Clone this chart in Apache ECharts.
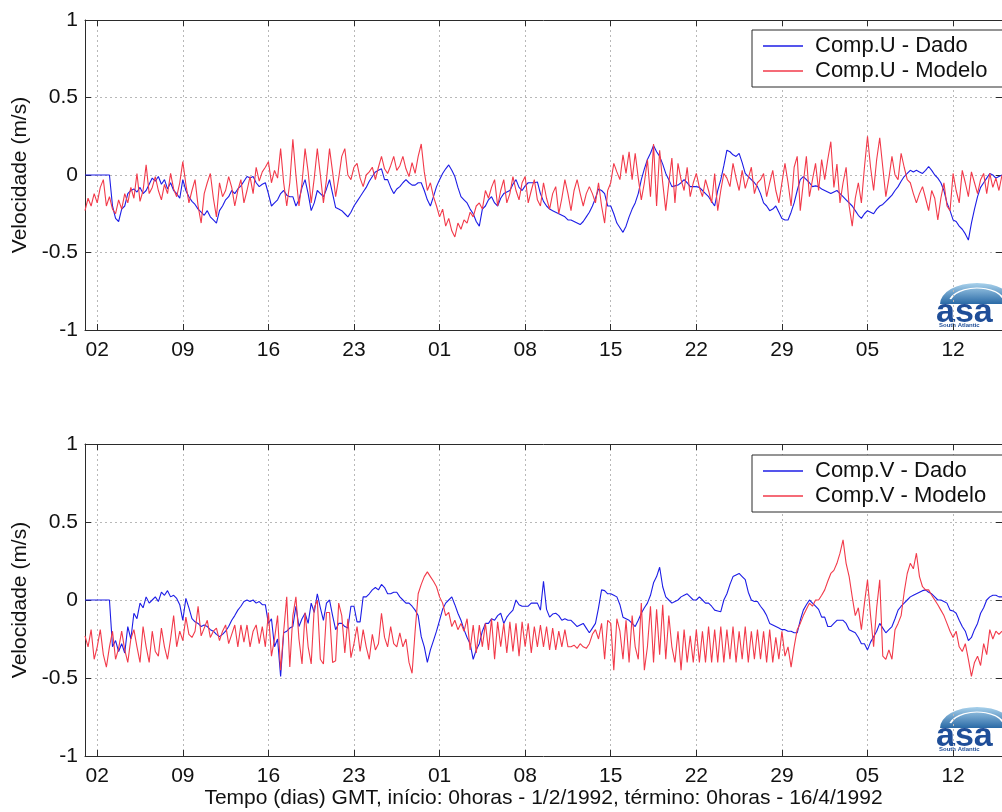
<!DOCTYPE html>
<html>
<head>
<meta charset="utf-8">
<script src="https://cdn.jsdelivr.net/npm/echarts@6/dist/echarts.min.js"></script>
<style>
html,body{margin:0;padding:0;background:#fff;}
#chart{width:1002px;height:812px;}
</style>
</head>
<body>
<div id="chart"></div>
<script>
// time step of the samples (days since 1/2/1992 0h)
const STEP_DAYS = 0.25;
const xTickDays = [1, 8, 15, 22, 29, 36, 43, 50, 57, 64, 71];
const xTickLabels = ['02','09','16','23','01','08','15','22','29','05','12'];

const uDado = [
0,0,0,0, 0,0,0,0, 0,-0.2,-0.28,-0.3, -0.22,-0.2,-0.12,-0.1, -0.09,-0.11,-0.08,-0.12,
-0.1,-0.06,-0.02,-0.04, -0.01,-0.06,-0.03,-0.09, -0.05,-0.1,-0.12,-0.15, -0.03,-0.1,-0.14,-0.17, -0.19,-0.22,-0.24,-0.26,
-0.23,-0.27,-0.29,-0.31, -0.23,-0.2,-0.16,-0.14, -0.1,-0.12,-0.09,-0.07, -0.04,-0.01,-0.02,-0.01, -0.05,-0.075,-0.06,-0.05,
-0.12,-0.2,-0.18,-0.16, -0.12,-0.1,-0.13,-0.14, -0.14,-0.2,-0.16,-0.08, -0.03,-0.12,-0.23,-0.18, -0.1,-0.12,-0.14,-0.09,
-0.03,-0.12,-0.21,-0.22, -0.23,-0.25,-0.27,-0.24, -0.2,-0.17,-0.14,-0.11, -0.08,-0.04,-0.01,0.02, 0.03,0.04,-0.03,-0.03,
-0.08,-0.12,-0.09,-0.075, -0.05,-0.03,-0.05,-0.065, -0.065,-0.05,-0.05,-0.1, -0.16,-0.2,-0.14,-0.075, -0.03,0.01,0.04,0.065,
0.03,-0.01,-0.08,-0.14, -0.16,-0.18,-0.22,-0.25, -0.3,-0.33,-0.22,-0.2, -0.16,-0.14,-0.18,-0.2, -0.15,-0.12,-0.11,-0.1,
-0.06,-0.03,-0.08,-0.1, -0.07,-0.05,-0.05,-0.05, -0.045,-0.12,-0.17,-0.2, -0.22,-0.23,-0.24,-0.25, -0.26,-0.27,-0.29,-0.29,
-0.3,-0.31,-0.32,-0.3, -0.27,-0.24,-0.2,-0.15, -0.09,-0.1,-0.12,-0.2, -0.2,-0.25,-0.31,-0.34, -0.37,-0.33,-0.27,-0.22,
-0.18,-0.12,-0.03,0.04, 0.1,0.14,0.19,0.15, 0.12,0.07,0.01,-0.03, -0.075,-0.07,-0.065,-0.05, -0.03,-0.05,-0.075,-0.075,
-0.075,-0.08,-0.1,-0.12, -0.14,-0.17,-0.2,-0.1, -0.03,0.06,0.16,0.15, 0.13,0.12,0.14,0.08, 0.01,-0.01,-0.03,-0.05,
-0.075,-0.12,-0.18,-0.2, -0.23,-0.22,-0.2,-0.24, -0.28,-0.29,-0.29,-0.24, -0.18,-0.1,-0.03,-0.01, -0.03,-0.05,-0.075,-0.07,
-0.075,-0.09,-0.1,-0.11, -0.12,-0.11,-0.1,-0.12, -0.14,-0.16,-0.18,-0.2, -0.23,-0.26,-0.28,-0.25, -0.23,-0.24,-0.25,-0.22,
-0.2,-0.19,-0.17,-0.15, -0.13,-0.1,-0.075,-0.04, -0.01,0.01,0.03,0.02, 0.03,0.02,0.01,0.03, 0.055,0.03,0.0,-0.02,
-0.05,-0.1,-0.18,-0.23, -0.29,-0.3,-0.33,-0.35, -0.38,-0.42,-0.31,-0.22, -0.14,-0.08,-0.05,-0.02, 0.01,0.0,-0.02,-0.01,
0.0
];

const uModelo = [
-0.23,-0.15,-0.2,-0.12, -0.18,-0.08,-0.03,-0.2, -0.14,-0.22,-0.25,-0.16, -0.22,-0.12,-0.18,-0.08, -0.15,0.01,-0.17,-0.1,
0.065,-0.12,-0.08,-0.01, -0.1,-0.16,-0.06,-0.12, 0.01,-0.09,-0.14,-0.05, 0.086,-0.06,-0.18,-0.1, -0.03,-0.2,-0.31,-0.12,
-0.05,0.01,-0.15,-0.27, -0.05,-0.14,-0.1,-0.01, -0.08,-0.2,-0.1,-0.03, -0.18,-0.1,-0.01,-0.12, 0.05,-0.04,0.02,0.05,
0.086,-0.05,0.03,-0.02, 0.17,-0.05,-0.2,-0.05, 0.23,0.0,-0.2,-0.05, 0.17,0.02,-0.18,-0.02, 0.17,0.0,-0.18,-0.03,
0.17,0.02,-0.14,-0.02, 0.12,0.17,0.0,-0.03, 0.05,0.075,-0.02,-0.075, 0.0,0.02,0.05,-0.03, 0.05,0.12,0.04,0.01,
0.06,0.12,0.03,0.06, 0.12,0.04,-0.01,0.08, 0.01,0.12,0.2,0.02, -0.1,-0.05,-0.14,-0.2, -0.27,-0.22,-0.33,-0.28,
-0.36,-0.4,-0.31,-0.35, -0.29,-0.31,-0.24,-0.27, -0.2,-0.18,-0.22,-0.1, -0.15,-0.08,-0.03,-0.2, -0.1,-0.03,-0.18,-0.12,
-0.01,-0.1,-0.16,-0.05, -0.01,-0.18,-0.1,-0.03, -0.16,-0.2,-0.05,-0.15, -0.22,-0.12,-0.075,-0.25, -0.15,-0.03,-0.12,-0.23,
-0.1,-0.03,-0.12,-0.2, -0.12,-0.075,-0.12,-0.18, -0.05,-0.2,-0.31,-0.1, -0.05,0.075,0.02,-0.03, 0.13,0.01,0.15,-0.03,
0.14,-0.02,-0.16,-0.05, 0.1,-0.14,0.2,-0.2, 0.16,-0.05,-0.23,-0.05, 0.11,-0.18,0.075,-0.03, -0.1,0.05,-0.14,-0.05,
0.01,-0.08,-0.14,-0.03, -0.1,-0.18,0.01,-0.23, -0.1,0.01,-0.02,-0.075, 0.075,-0.02,-0.1,0.03, -0.086,-0.02,0.05,-0.12,
-0.05,-0.03,0.01,-0.14, -0.05,0.03,-0.1,-0.18, -0.05,0.075,-0.05,-0.2, 0.05,0.12,-0.23,-0.05, 0.12,-0.14,-0.03,0.075,
-0.1,0.1,-0.03,0.1, 0.215,-0.08,0.07,-0.18, -0.05,0.05,-0.2,-0.33, -0.15,-0.05,-0.18,0.05, 0.25,0.05,-0.1,0.1,
0.24,0.05,-0.14,-0.02, 0.12,0.0,-0.03,0.14, 0.05,-0.03,-0.05,-0.12, -0.18,-0.12,-0.075,-0.15, -0.23,-0.1,-0.15,-0.29,
-0.15,-0.05,-0.2,-0.23, 0.01,-0.1,-0.18,0.03, -0.05,-0.14,0.02,-0.05, -0.12,-0.03,0.01,-0.12, 0.01,-0.08,-0.02,-0.1,
0.0
];

const vDado = [
0,0,0,0, 0,0,0,0, 0,-0.3,-0.26,-0.33, -0.28,-0.34,-0.17,-0.25, -0.085,-0.12,-0.02,-0.05,
0.02,-0.02,0.0,0.02, -0.01,0.05,0.03,0.06, 0.02,0.03,0.01,-0.03, -0.13,0.01,-0.05,-0.12, -0.14,-0.15,-0.17,-0.16,
-0.17,-0.19,-0.2,-0.22, -0.235,-0.22,-0.2,-0.17, -0.13,-0.1,-0.065,-0.04, -0.01,0.0,-0.01,0.0, -0.02,-0.01,-0.03,-0.03,
-0.15,-0.12,-0.3,-0.25, -0.49,-0.21,-0.2,-0.18, -0.17,-0.04,-0.17,-0.12, -0.085,-0.15,-0.02,-0.08, 0.04,-0.05,-0.13,-0.02,
0.0,-0.1,-0.19,-0.15, -0.15,-0.17,-0.18,-0.04, -0.04,-0.14,-0.14,0.02, 0.02,0.04,0.065,0.08, 0.065,0.1,0.08,0.04,
0.04,0.05,0.05,0.02, 0.0,-0.02,-0.02,-0.04, -0.065,-0.1,-0.235,-0.3, -0.4,-0.32,-0.26,-0.2, -0.13,-0.06,-0.02,0.0,
0.02,-0.03,-0.085,-0.13, -0.19,-0.24,-0.28,-0.38, -0.32,-0.28,-0.2,-0.15, -0.15,-0.12,-0.13,-0.1, -0.085,-0.15,-0.11,-0.085,
-0.065,0.0,-0.03,-0.04, -0.04,-0.04,-0.02,-0.02, -0.02,-0.065,0.12,-0.06, -0.11,-0.09,-0.085,-0.1, -0.13,-0.12,-0.13,-0.13,
-0.15,-0.17,-0.16,-0.15, -0.18,-0.21,-0.18,-0.15, -0.05,0.065,0.06,0.04, 0.04,0.03,0.02,-0.03, -0.11,-0.12,-0.13,-0.15,
-0.17,-0.13,-0.085,-0.05, -0.02,0.03,0.11,0.15, 0.21,0.085,0.02,0.0, -0.02,-0.01,0.0,0.02, 0.03,0.04,0.02,0.0,
0.0,0.02,0.0,-0.02, -0.02,-0.04,-0.065,-0.07, -0.075,0.0,0.04,0.1, 0.15,0.16,0.17,0.15, 0.13,0.05,0.0,-0.01,
-0.01,-0.04,-0.065,-0.1, -0.15,-0.16,-0.17,-0.18, -0.19,-0.19,-0.2,-0.2, -0.21,-0.21,-0.13,-0.065, -0.03,0.0,-0.02,-0.04,
-0.06,-0.11,-0.11,-0.17, -0.17,-0.15,-0.13,-0.13, -0.13,-0.15,-0.19,-0.2, -0.21,-0.24,-0.28,-0.28, -0.32,-0.27,-0.235,-0.2,
-0.15,-0.18,-0.21,-0.19, -0.17,-0.12,-0.065,-0.04, -0.02,0.0,0.02,0.03, 0.04,0.05,0.06,0.065, 0.05,0.04,0.02,0.0,
0.0,-0.01,-0.02,-0.065, -0.07,-0.085,-0.13,-0.17, -0.2,-0.26,-0.24,-0.19, -0.15,-0.085,-0.05,0.0, 0.02,0.03,0.03,0.02,
0.02
];

const vModelo = [
-0.23,-0.3,-0.19,-0.38, -0.3,-0.19,-0.35,-0.43, -0.3,-0.2,-0.38,-0.31, -0.2,-0.32,-0.4,-0.25, -0.19,-0.3,-0.4,-0.17,
-0.3,-0.4,-0.2,-0.33, -0.36,-0.18,-0.3,-0.38, -0.25,-0.1,-0.3,-0.2, -0.26,-0.11,-0.22,-0.24, -0.2,-0.04,-0.23,-0.18,
-0.13,-0.24,-0.2,-0.18, -0.26,-0.2,-0.16,-0.28, -0.22,-0.16,-0.3,-0.16, -0.27,-0.16,-0.3,-0.2, -0.16,-0.28,-0.17,-0.3,
-0.08,-0.36,-0.25,-0.1, -0.45,-0.2,0.02,-0.43, -0.1,0.02,-0.25,-0.41, -0.08,-0.3,-0.41,-0.05, 0.0,-0.38,-0.41,-0.08,
-0.08,-0.4,-0.39,-0.02, -0.1,-0.34,-0.12,-0.37, -0.28,-0.17,-0.33,-0.19, -0.3,-0.38,-0.22,-0.32, -0.28,-0.085,-0.24,-0.3,
-0.17,-0.28,-0.3,-0.21, -0.3,-0.25,-0.4,-0.47, -0.2,0.04,0.1,0.15, 0.18,0.15,0.12,0.085, 0.02,-0.02,-0.1,-0.08,
-0.17,-0.13,-0.19,-0.15, -0.2,-0.12,-0.32,-0.16, -0.34,-0.16,-0.3,-0.15, -0.32,-0.12,-0.38,-0.14, -0.3,-0.15,-0.34,-0.14,
-0.33,-0.15,-0.36,-0.14, -0.3,-0.15,-0.34,-0.17, -0.3,-0.16,-0.3,-0.17, -0.32,-0.18,-0.32,-0.2, -0.3,-0.19,-0.3,-0.3,
-0.29,-0.31,-0.28,-0.3, -0.31,-0.28,-0.22,-0.19, -0.25,-0.15,-0.38,-0.13, -0.15,-0.45,-0.12,-0.2, -0.38,-0.13,-0.4,-0.1,
-0.3,-0.38,-0.02,-0.45, -0.3,-0.04,-0.4,-0.06, -0.35,-0.03,-0.38,-0.1, -0.3,-0.4,-0.2,-0.45, -0.19,-0.4,-0.23,-0.4,
-0.19,-0.4,-0.2,-0.4, -0.17,-0.4,-0.19,-0.4, -0.17,-0.4,-0.19,-0.38, -0.17,-0.4,-0.2,-0.38, -0.17,-0.4,-0.2,-0.38,
-0.19,-0.38,-0.2,-0.4, -0.19,-0.4,-0.24,-0.38, -0.2,-0.36,-0.3,-0.43, -0.3,-0.19,-0.15,-0.1, -0.06,-0.02,-0.04,0.0,
0.0,0.03,0.065,0.12, 0.17,0.19,0.235,0.3, 0.385,0.235,0.15,0.02, -0.1,-0.05,-0.19,-0.02, 0.13,-0.1,-0.3,-0.05,
0.13,-0.36,-0.38,-0.32, -0.38,-0.19,-0.15,-0.1, 0.05,0.17,0.235,0.2, 0.3,0.15,0.085,0.065, 0.065,0.03,0.0,-0.03,
-0.065,-0.1,-0.15,-0.2, -0.24,-0.2,-0.3,-0.33, -0.28,-0.38,-0.49,-0.4, -0.36,-0.42,-0.28,-0.35, -0.19,-0.25,-0.2,-0.22,
-0.2
];

const seriesNames = ['Comp.U - Dado', 'Comp.U - Modelo', 'Comp.V - Dado', 'Comp.V - Modelo'];
const yTitle = 'Velocidade (m/s)';
const xTitle = 'Tempo (dias) GMT, início: 0horas - 1/2/1992, término: 0horas - 16/4/1992';

const FONT = '"Liberation Sans", Arial, Helvetica, sans-serif';
const AXIS_COLOR = '#2b2b2b';
const GRID_COLOR = '#b8b8b8';
const BLUE = '#1c1ce6';
const RED = '#f23a4a';

function toPairs(arr) { return arr.map((v, i) => [i * STEP_DAYS, v]); }

const grids = [
  { left: 85, top: 20, width: 928, height: 310 },
  { left: 85, top: 444, width: 928, height: 312 }
];

function xAxes(gi, withName) {
  return [
    {
      type: 'value', gridIndex: gi, min: 0, max: 75, position: 'bottom',
      name: withName ? xTitle : '', nameLocation: 'middle', nameGap: 31,
      nameTextStyle: { fontFamily: FONT, fontSize: 21, color: '#111' },
      axisLine: { show: true, onZero: false, lineStyle: { color: AXIS_COLOR, width: 1 } },
      axisTick: { show: true, inside: true, length: 6, customValues: xTickDays, lineStyle: { color: AXIS_COLOR } },
      axisLabel: {
        show: true, customValues: xTickDays, margin: 10,
        fontFamily: FONT, fontSize: 21, color: '#111',
        formatter: function (v) { const k = xTickDays.indexOf(Math.round(v)); return k >= 0 ? xTickLabels[k] : ''; }
      },
      splitLine: { show: true, lineStyle: { color: GRID_COLOR, type: [2, 3], width: 1 } }
    },
    {
      type: 'value', gridIndex: gi, min: 0, max: 75, position: 'top',
      axisLine: { show: true, onZero: false, lineStyle: { color: AXIS_COLOR, width: 1 } },
      axisTick: { show: true, inside: true, length: 6, customValues: xTickDays, lineStyle: { color: AXIS_COLOR } },
      axisLabel: { show: false },
      splitLine: { show: false }
    }
  ];
}

function yAxes(gi) {
  return [
    {
      type: 'value', gridIndex: gi, min: -1, max: 1, interval: 0.5, position: 'left',
      name: yTitle, nameLocation: 'middle', nameGap: 46, nameRotate: 90,
      nameTextStyle: { fontFamily: FONT, fontSize: 21, color: '#111' },
      axisLine: { show: true, onZero: false, lineStyle: { color: AXIS_COLOR, width: 1 } },
      axisTick: { show: true, inside: true, length: 6, lineStyle: { color: AXIS_COLOR } },
      axisLabel: { fontFamily: FONT, fontSize: 21, color: '#111', margin: 7 },
      splitLine: { show: true, lineStyle: { color: GRID_COLOR, type: [2, 3], width: 1 } }
    },
    {
      type: 'value', gridIndex: gi, min: -1, max: 1, interval: 0.5, position: 'right',
      axisLine: { show: true, onZero: false, lineStyle: { color: AXIS_COLOR, width: 1 } },
      axisTick: { show: true, inside: true, length: 6, lineStyle: { color: AXIS_COLOR } },
      axisLabel: { show: false },
      splitLine: { show: false }
    }
  ];
}

function legend(top, names) {
  return {
    data: names, orient: 'vertical', left: 752, top: top,
    backgroundColor: '#ffffff', borderColor: AXIS_COLOR, borderWidth: 1, borderRadius: 0,
    padding: [5, 30, 5, 11], itemGap: 3, itemWidth: 40, itemHeight: 1.5, icon: 'rect',
    textStyle: { fontFamily: FONT, fontSize: 22, color: '#111', padding: [0, 0, 0, 7], lineHeight: 22 },
    selectedMode: false
  };
}

function lineSeries(name, data, color, xi, yi, z) {
  return {
    name: name, type: 'line', data: toPairs(data), xAxisIndex: xi, yAxisIndex: yi,
    symbol: 'none', showSymbol: false, smooth: false, z: z,
    lineStyle: { color: color, width: 1.1 }, itemStyle: { color: color },
    emphasis: { disabled: true }, silent: true
  };
}

function logo(dy) {
  return {
    type: 'group', silent: true,
    children: [
      { type: 'group', x: 977, y: 304 + dy, scaleY: 0.57,
        children: [
          { type: 'sector', shape: { cx: 0, cy: 0, r: 37, r0: 0, startAngle: Math.PI, endAngle: Math.PI * 2, clockwise: true },
            style: { fill: { type: 'linear', x: 0, y: 0, x2: 0, y2: 1, colorStops: [
              { offset: 0, color: '#a9d2ec' }, { offset: 1, color: '#2a6aa6' }] } } },
          { type: 'arc', shape: { cx: 0, cy: 0, r: 28, startAngle: Math.PI * 1.1, endAngle: Math.PI * 1.9, clockwise: true },
            style: { fill: null, stroke: '#ffffff', lineWidth: 2 } }
        ] },
      { type: 'text', x: 936, y: 296 + dy, style: { text: 'asa', fill: '#1f4e98',
        font: 'bold 34px ' + FONT } },
      { type: 'text', x: 939, y: 322 + dy, style: { text: 'South Atlantic', fill: '#1f4e98',
        font: 'bold 6px ' + FONT } }
    ]
  };
}

const chart = echarts.init(document.getElementById('chart'), null, { renderer: 'canvas' });
chart.setOption({
  animation: false,
  backgroundColor: '#ffffff',
  grid: grids,
  xAxis: xAxes(0, false).concat(xAxes(1, true)),
  yAxis: yAxes(0).concat(yAxes(1)),
  legend: [legend(30, [seriesNames[0], seriesNames[1]]), legend(455, [seriesNames[2], seriesNames[3]])],
  series: [
    lineSeries(seriesNames[0], uDado, BLUE, 0, 0, 3),
    lineSeries(seriesNames[1], uModelo, RED, 0, 0, 4),
    lineSeries(seriesNames[2], vDado, BLUE, 2, 2, 3),
    lineSeries(seriesNames[3], vModelo, RED, 2, 2, 4)
  ],
  graphic: [logo(0), logo(424)]
});
</script>
</body>
</html>
